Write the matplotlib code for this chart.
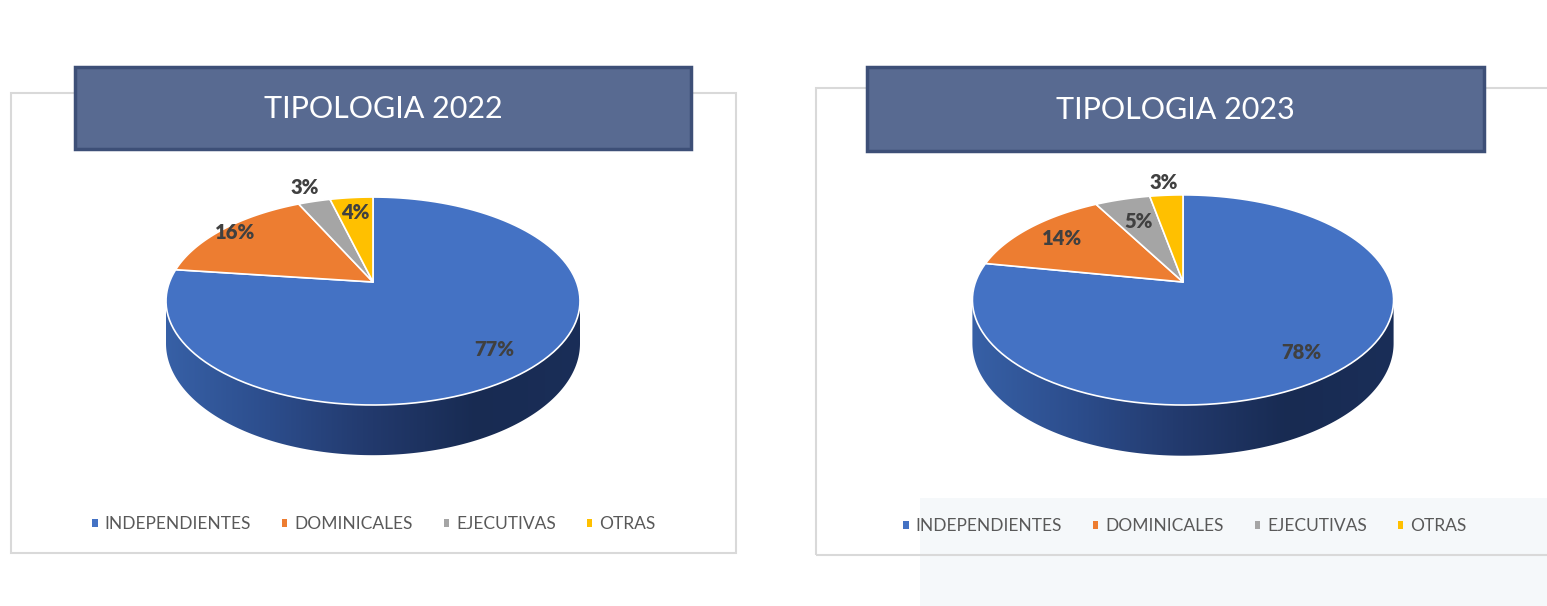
import numpy as np
import matplotlib.pyplot as plt
from matplotlib.patches import Rectangle, Polygon
from matplotlib.colors import LinearSegmentedColormap

plt.rcParams['font.family'] = ['Lato', 'DejaVu Sans']

# Composición por tipología de consejeros
categorias = ["INDEPENDIENTES", "DOMINICALES", "EJECUTIVAS", "OTRAS"]
valores_2022 = [77, 16, 3, 4]
valores_2023 = [78, 14, 5, 3]
titulos = ["TIPOLOGIA 2022", "TIPOLOGIA 2023"]

colores = ["#4472c4", "#ed7d31", "#a5a5a5", "#ffc000"]
W, H = 1547, 606

fig = plt.figure(figsize=(W / 100, H / 100), dpi=100)
fig.patch.set_facecolor("white")

# lienzo en pixeles (y hacia arriba)
base = fig.add_axes([0, 0, 1, 1])
base.set_xlim(0, W)
base.set_ylim(0, H)
base.axis("off")


def Y(y):
    return H - y


# fondo tenue abajo a la derecha
base.add_patch(Rectangle((920, 0), W - 920, Y(498), facecolor="#f5f8fa",
                         edgecolor="none", zorder=0))

# marcos de los graficos
for (x0, y0, x1, y1) in [(11, 93, 736, 553), (816, 88, W + 20, 555)]:
    base.add_patch(Rectangle((x0, Y(y1)), x1 - x0, y1 - y0, facecolor="none",
                             edgecolor="#d9d9d9", lw=1.5, zorder=1))

# cajas de titulo
for (x0, y0, x1, y1), t in zip([(75, 67, 691, 149), (867, 67, 1484, 151)], titulos):
    base.add_patch(Rectangle((x0, Y(y1)), x1 - x0, y1 - y0, facecolor="#586a91",
                             edgecolor="#3d4f77", lw=2.5, zorder=2))
    base.text((x0 + x1) / 2, Y((y0 + y1) / 2 + 1), t, color="white", fontsize=22,
              ha="center", va="center", zorder=3)

lado_cmap = LinearSegmentedColormap.from_list(
    "lado", ["#3760a6", "#2c4d8c", "#22396c", "#182b52", "#1a2e58"])

# (apice x, apice y, escala x, escala y, perspectiva k, grosor)
geometria = [(373, 282, 203.5, 100.5, 0.183, 41),
             (1183, 282, 207.5, 102.0, 0.171, 42)]
# distancia radial de cada etiqueta
dist_etiquetas = [[0.80, 0.92, 1.20, 0.80],
                  [0.80, 0.78, 0.70, 1.18]]
# centros de leyenda
centros_leyenda = [(374, 524), (1185, 526)]

for i, vals in enumerate([valores_2022, valores_2023]):
    apx, apy, sx, sy, k, prof = geometria[i]
    apy = Y(apy)

    def proy(x, y, caida=0.0):
        s = 1.0 / (1.0 + k * y)
        return apx + sx * x * s, apy + (sy * y - caida) * s

    pax = fig.add_axes([0, 0, 1, 1])
    wedges, _, autotexts = pax.pie(vals, colors=colores, startangle=90,
                                   counterclock=False, autopct="%1.0f%%")
    pax.set_aspect("auto")
    pax.set_xlim(0, W)
    pax.set_ylim(0, H)
    pax.axis("off")

    # pared lateral frontal
    t = np.linspace(np.pi + np.arcsin(k), 2 * np.pi - np.arcsin(k), 200)
    xs, ys = np.cos(t), np.sin(t)
    sup = np.column_stack(proy(xs, ys))
    inf = np.column_stack(proy(xs, ys, prof))[::-1]
    lado = Polygon(np.vstack([sup, inf]), closed=True, facecolor="none",
                   edgecolor="none", transform=pax.transData)
    pax.add_patch(lado)
    x_min, x_max = sup[:, 0].min(), sup[:, 0].max()
    grad = np.linspace(0, 1, 256)[None, :]
    img = pax.imshow(grad, cmap=lado_cmap, aspect="auto", zorder=1,
                     extent=(x_min, x_max, inf[:, 1].min() - 2, sup[:, 1].max()))
    img.set_clip_path(lado)
    pax.set_xlim(0, W)
    pax.set_ylim(0, H)

    # tapa superior en perspectiva
    for w, txt, d in zip(wedges, autotexts, dist_etiquetas[i]):
        w.set_visible(False)
        a = np.radians(np.linspace(w.theta1, w.theta2, 120))
        px = np.concatenate([[0], np.cos(a), [0]])
        py = np.concatenate([[0], np.sin(a), [0]])
        qx, qy = proy(px, py)
        pax.add_patch(Polygon(np.column_stack([qx, qy]), closed=True,
                              facecolor=w.get_facecolor(), edgecolor="white",
                              lw=1.2, zorder=2, joinstyle="round"))
        am = np.radians((w.theta1 + w.theta2) / 2)
        tx, ty = proy(d * np.cos(am), d * np.sin(am))
        txt.set_position((tx, ty))
        txt.set_fontsize(14.5)
        txt.set_fontweight("heavy")
        txt.set_color("#404040")
        txt.set_zorder(5)

    cx, cy = centros_leyenda[i]
    fig.legend(wedges, categorias, loc="center", ncol=4, frameon=False,
               bbox_to_anchor=(cx / W, 1 - cy / H), fontsize=12.5,
               labelcolor="#595959", handlelength=0.3, handleheight=0.3,
               handletextpad=0.4, columnspacing=1.8)
    # los marcadores de la leyenda deben verse aunque las cunas estan ocultas
    leg = fig.legends[-1]
    for h, c in zip(leg.legend_handles, colores):
        h.set_visible(True)
        h.set_facecolor(c)
        h.set_edgecolor("none")

fig.savefig("out.png", dpi=100, facecolor="white")
